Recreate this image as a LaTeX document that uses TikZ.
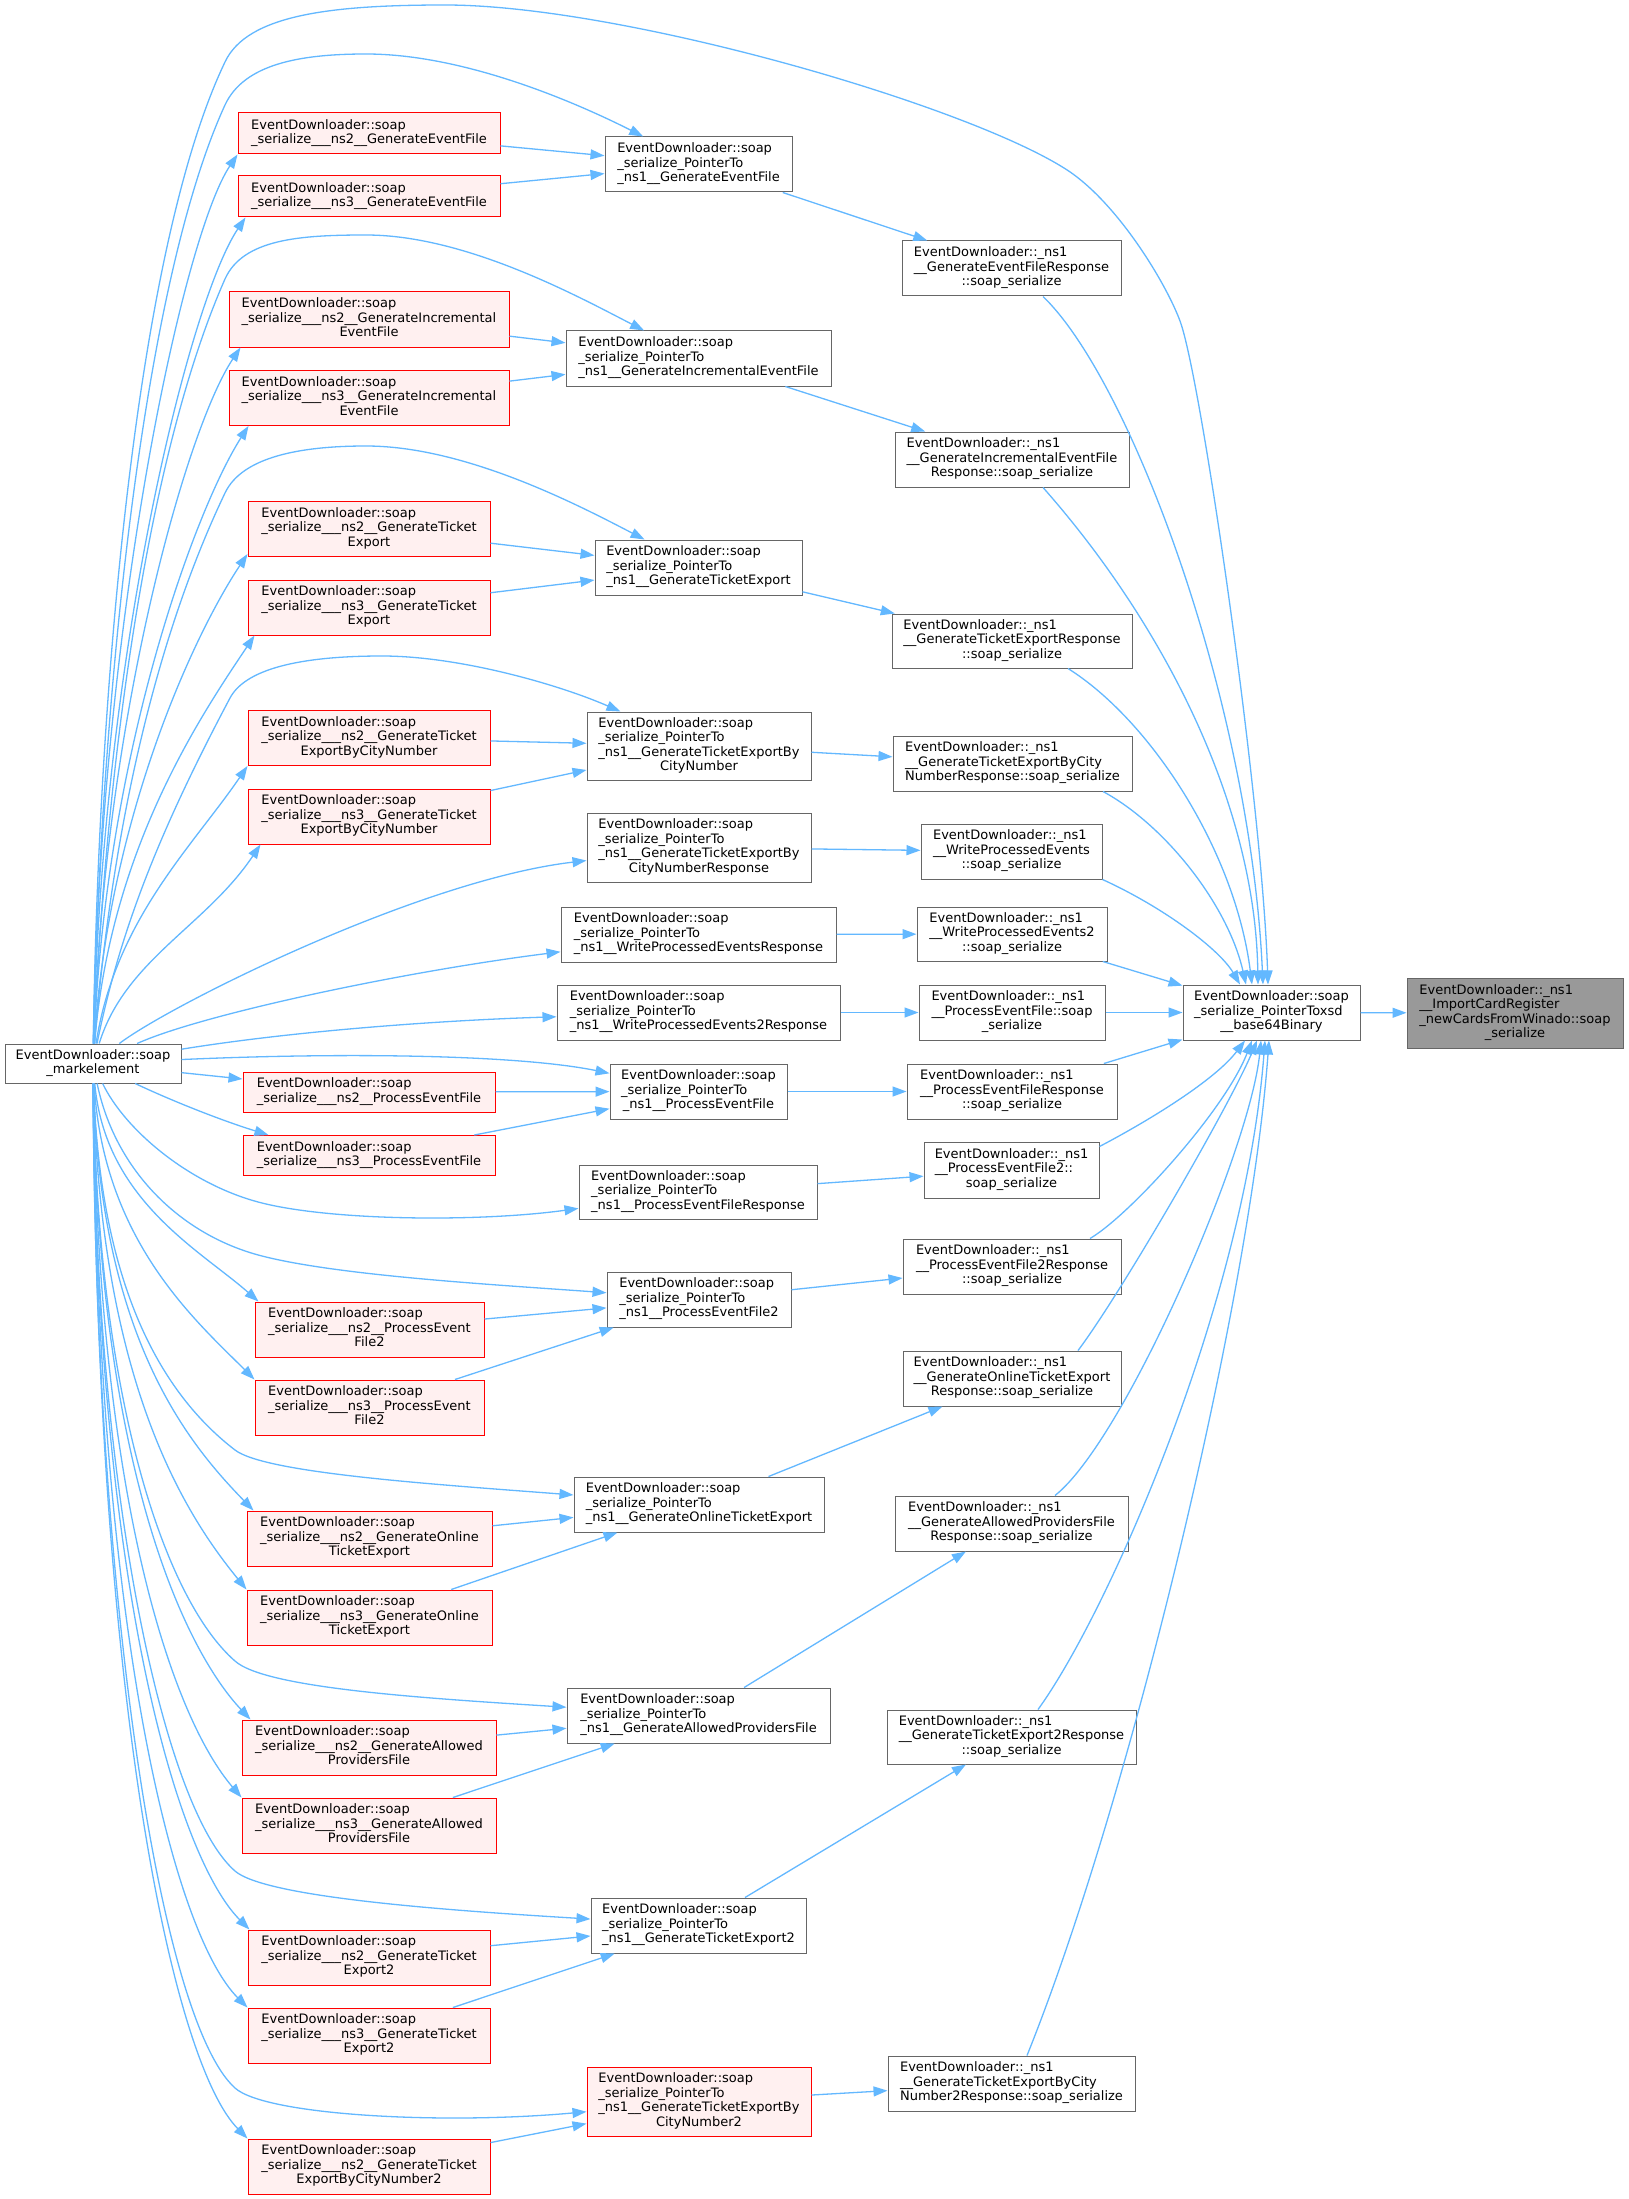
\documentclass[tikz,border=0pt]{standalone}
\usepackage{fontspec}
\setmainfont{DejaVu Sans}
\usetikzlibrary{arrows.meta}
\definecolor{edgeblue}{HTML}{63B8FF}
\definecolor{nodegray}{HTML}{666666}
\definecolor{redfill}{HTML}{FFF0F0}
\definecolor{grayfill}{HTML}{999999}
\newcommand\nlab[2]{\begin{tabular}{@{}l@{}}#1\\\multicolumn{1}{@{}c@{}}{#2}\end{tabular}}
\begin{document}
\begin{tikzpicture}[x=1pt,y=-1pt,
  box/.style={rectangle,draw=nodegray,line width=1pt,fill=white,inner sep=0pt,text=black,font=\fontsize{13}{14.5}\selectfont},
  redbox/.style={box,draw=red,fill=redfill},
  graybox/.style={box,draw=nodegray,fill=grayfill},
  edge/.style={draw=edgeblue,line width=1.3pt,-{Triangle[length=14pt,width=10pt]}}]
\fill[white] (0,0) rectangle (1628,2199);
\useasboundingbox (0,0) rectangle (1628,2199);
% ---------- column 1
\node[box,minimum width=176pt,minimum height=39pt] (M) at (93,1063.5) {\nlab{EventDownloader::soap}{\_markelement}};
% ---------- column 2
\node[redbox,minimum width=262pt,minimum height=41pt] (A2) at (369,133.5) {\nlab{EventDownloader::soap}{\_serialize\_\_\_ns2\_\_GenerateEventFile}};
\node[redbox,minimum width=262pt,minimum height=41pt] (A3) at (369,196.5) {\nlab{EventDownloader::soap}{\_serialize\_\_\_ns3\_\_GenerateEventFile}};
\node[redbox,minimum width=280pt,minimum height=55pt] (B2) at (369,319.5) {\nlab{EventDownloader::soap\\\_serialize\_\_\_ns2\_\_GenerateIncremental}{EventFile}};
\node[redbox,minimum width=280pt,minimum height=55pt] (B3) at (369,398) {\nlab{EventDownloader::soap\\\_serialize\_\_\_ns3\_\_GenerateIncremental}{EventFile}};
\node[redbox,minimum width=242pt,minimum height=55pt] (C2) at (369,529) {\nlab{EventDownloader::soap\\\_serialize\_\_\_ns2\_\_GenerateTicket}{Export}};
\node[redbox,minimum width=242pt,minimum height=55pt] (C3) at (369,607.5) {\nlab{EventDownloader::soap\\\_serialize\_\_\_ns3\_\_GenerateTicket}{Export}};
\node[redbox,minimum width=242pt,minimum height=55pt] (D2) at (369,738) {\nlab{EventDownloader::soap\\\_serialize\_\_\_ns2\_\_GenerateTicket}{ExportByCityNumber}};
\node[redbox,minimum width=242pt,minimum height=55pt] (D3) at (369,816.5) {\nlab{EventDownloader::soap\\\_serialize\_\_\_ns3\_\_GenerateTicket}{ExportByCityNumber}};
\node[redbox,minimum width=252pt,minimum height=40pt] (E2) at (369,1092) {\nlab{EventDownloader::soap}{\_serialize\_\_\_ns2\_\_ProcessEventFile}};
\node[redbox,minimum width=252pt,minimum height=40pt] (E3) at (369,1155.5) {\nlab{EventDownloader::soap}{\_serialize\_\_\_ns3\_\_ProcessEventFile}};
\node[redbox,minimum width=229pt,minimum height=55pt] (F2) at (369.5,1329.5) {\nlab{EventDownloader::soap\\\_serialize\_\_\_ns2\_\_ProcessEvent}{File2}};
\node[redbox,minimum width=229pt,minimum height=55pt] (F3) at (369.5,1407.5) {\nlab{EventDownloader::soap\\\_serialize\_\_\_ns3\_\_ProcessEvent}{File2}};
\node[redbox,minimum width=245pt,minimum height=55pt] (G2) at (369.5,1538.5) {\nlab{EventDownloader::soap\\\_serialize\_\_\_ns2\_\_GenerateOnline}{TicketExport}};
\node[redbox,minimum width=245pt,minimum height=55pt] (G3) at (369.5,1617.5) {\nlab{EventDownloader::soap\\\_serialize\_\_\_ns3\_\_GenerateOnline}{TicketExport}};
\node[redbox,minimum width=254pt,minimum height=55pt] (H2) at (369,1747.5) {\nlab{EventDownloader::soap\\\_serialize\_\_\_ns2\_\_GenerateAllowed}{ProvidersFile}};
\node[redbox,minimum width=254pt,minimum height=55pt] (H3) at (369,1825.5) {\nlab{EventDownloader::soap\\\_serialize\_\_\_ns3\_\_GenerateAllowed}{ProvidersFile}};
\node[redbox,minimum width=242pt,minimum height=55pt] (I2) at (369,1957.5) {\nlab{EventDownloader::soap\\\_serialize\_\_\_ns2\_\_GenerateTicket}{Export2}};
\node[redbox,minimum width=242pt,minimum height=55pt] (I3) at (369,2035.5) {\nlab{EventDownloader::soap\\\_serialize\_\_\_ns3\_\_GenerateTicket}{Export2}};
\node[redbox,minimum width=242pt,minimum height=55pt] (J2) at (369,2166.5) {\nlab{EventDownloader::soap\\\_serialize\_\_\_ns2\_\_GenerateTicket}{ExportByCityNumber2}};
% ---------- column 3
\node[box,minimum width=187pt,minimum height=55pt] (PA) at (698.5,164.5) {\nlab{EventDownloader::soap\\\_serialize\_PointerTo}{\_ns1\_\_GenerateEventFile}};
\node[box,minimum width=265pt,minimum height=55pt] (PB) at (698.5,358.5) {\nlab{EventDownloader::soap\\\_serialize\_PointerTo}{\_ns1\_\_GenerateIncrementalEventFile}};
\node[box,minimum width=207pt,minimum height=55pt] (PC) at (698.5,567.5) {\nlab{EventDownloader::soap\\\_serialize\_PointerTo}{\_ns1\_\_GenerateTicketExport}};
\node[box,minimum width=224pt,minimum height=68pt] (PD) at (699,746) {\nlab{EventDownloader::soap\\\_serialize\_PointerTo\\\_ns1\_\_GenerateTicketExportBy}{CityNumber}};
\node[box,minimum width=224pt,minimum height=69pt] (PDR) at (699,847.5) {\nlab{EventDownloader::soap\\\_serialize\_PointerTo\\\_ns1\_\_GenerateTicketExportBy}{CityNumberResponse}};
\node[box,minimum width=275pt,minimum height=55pt] (PW) at (698.5,934.5) {\nlab{EventDownloader::soap\\\_serialize\_PointerTo}{\_ns1\_\_WriteProcessedEventsResponse}};
\node[box,minimum width=283pt,minimum height=55pt] (PW2) at (698.5,1012.5) {\nlab{EventDownloader::soap\\\_serialize\_PointerTo}{\_ns1\_\_WriteProcessedEvents2Response}};
\node[box,minimum width=177pt,minimum height=55pt] (PE) at (698.5,1091.5) {\nlab{EventDownloader::soap\\\_serialize\_PointerTo}{\_ns1\_\_ProcessEventFile}};
\node[box,minimum width=238pt,minimum height=54pt] (PER) at (698,1192) {\nlab{EventDownloader::soap\\\_serialize\_PointerTo}{\_ns1\_\_ProcessEventFileResponse}};
\node[box,minimum width=184pt,minimum height=55pt] (PF) at (699,1299.5) {\nlab{EventDownloader::soap\\\_serialize\_PointerTo}{\_ns1\_\_ProcessEventFile2}};
\node[box,minimum width=250pt,minimum height=55pt] (PG) at (699,1504.5) {\nlab{EventDownloader::soap\\\_serialize\_PointerTo}{\_ns1\_\_GenerateOnlineTicketExport}};
\node[box,minimum width=263pt,minimum height=55pt] (PH) at (698.5,1715.5) {\nlab{EventDownloader::soap\\\_serialize\_PointerTo}{\_ns1\_\_GenerateAllowedProvidersFile}};
\node[box,minimum width=215pt,minimum height=55pt] (PI) at (698.5,1925.5) {\nlab{EventDownloader::soap\\\_serialize\_PointerTo}{\_ns1\_\_GenerateTicketExport2}};
\node[redbox,minimum width=224pt,minimum height=69pt] (PJ) at (699,2101.5) {\nlab{EventDownloader::soap\\\_serialize\_PointerTo\\\_ns1\_\_GenerateTicketExportBy}{CityNumber2}};
% ---------- column 4
\node[box,minimum width=219pt,minimum height=55pt] (RA) at (1011.5,268.5) {\nlab{EventDownloader::\_ns1\\\_\_GenerateEventFileResponse}{::soap\_serialize}};
\node[box,minimum width=234pt,minimum height=55pt] (RB) at (1012,459.5) {\nlab{EventDownloader::\_ns1\\\_\_GenerateIncrementalEventFile}{Response::soap\_serialize}};
\node[box,minimum width=240pt,minimum height=54pt] (RC) at (1012,641) {\nlab{EventDownloader::\_ns1\\\_\_GenerateTicketExportResponse}{::soap\_serialize}};
\node[box,minimum width=239pt,minimum height=55pt] (RD) at (1012.5,763.5) {\nlab{EventDownloader::\_ns1\\\_\_GenerateTicketExportByCity}{NumberResponse::soap\_serialize}};
\node[box,minimum width=181pt,minimum height=55pt] (RW) at (1011.5,851.5) {\nlab{EventDownloader::\_ns1\\\_\_WriteProcessedEvents}{::soap\_serialize}};
\node[box,minimum width=190pt,minimum height=54pt] (RW2) at (1012,934) {\nlab{EventDownloader::\_ns1\\\_\_WriteProcessedEvents2}{::soap\_serialize}};
\node[box,minimum width=186pt,minimum height=55pt] (RE) at (1012,1012.5) {\nlab{EventDownloader::\_ns1\\\_\_ProcessEventFile::soap}{\_serialize}};
\node[box,minimum width=210pt,minimum height=55pt] (RER) at (1012,1091.5) {\nlab{EventDownloader::\_ns1\\\_\_ProcessEventFileResponse}{::soap\_serialize}};
\node[box,minimum width=175pt,minimum height=56pt] (RF) at (1011.5,1170) {\nlab{EventDownloader::\_ns1\\\_\_ProcessEventFile2::}{soap\_serialize}};
\node[box,minimum width=218pt,minimum height=55pt] (RFR) at (1012,1266.5) {\nlab{EventDownloader::\_ns1\\\_\_ProcessEventFile2Response}{::soap\_serialize}};
\node[box,minimum width=218pt,minimum height=55pt] (RG) at (1012,1378.5) {\nlab{EventDownloader::\_ns1\\\_\_GenerateOnlineTicketExport}{Response::soap\_serialize}};
\node[box,minimum width=233pt,minimum height=55pt] (RH) at (1011.5,1523.5) {\nlab{EventDownloader::\_ns1\\\_\_GenerateAllowedProvidersFile}{Response::soap\_serialize}};
\node[box,minimum width=249pt,minimum height=54pt] (RI) at (1011.5,1737) {\nlab{EventDownloader::\_ns1\\\_\_GenerateTicketExport2Response}{::soap\_serialize}};
\node[box,minimum width=247pt,minimum height=55pt] (RJ) at (1011.5,2083.5) {\nlab{EventDownloader::\_ns1\\\_\_GenerateTicketExportByCity}{Number2Response::soap\_serialize}};
% ---------- columns 5,6
\node[box,minimum width=177pt,minimum height=55pt] (X) at (1271.5,1012.5) {\nlab{EventDownloader::soap\\\_serialize\_PointerToxsd}{\_\_base64Binary}};
\node[graybox,minimum width=216pt,minimum height=70pt] (T) at (1515,1013) {\nlab{EventDownloader::\_ns1\\\_\_ImportCardRegister\\\_newCardsFromWinado::soap}{\_serialize}};
% ---------- edges from markelement (upper)
\draw[edge] (M) .. controls (98,700) and (135,250) .. (225,62) .. controls (247,15) and (330,5) .. (445,5) .. controls (620,5) and (960,103) .. (1064,168) .. controls (1116,200) and (1166,283) .. (1180,321) .. controls (1201,377) and (1262,800) .. ([xshift=-3.5pt]X.north);
\draw[edge] (M) .. controls (100,720) and (140,290) .. (225,105) .. controls (244,64) and (300,54) .. (366,54) .. controls (466,54) and (579,104) .. (PA);
\draw[edge] (M) .. controls (100,620) and (183,236) .. (A2.south west);
\draw[edge] (M) .. controls (102,650) and (190,300) .. ([xshift=8pt]A3.south west);
\draw[edge] (M) .. controls (105,780) and (145,460) .. (225,279) .. controls (243,239) and (300,235) .. (366,235) .. controls (466,235) and (579,297) .. (PB);
\draw[edge] (M) .. controls (104,720) and (186,429) .. ([xshift=12pt]B2.south west);
\draw[edge] (M) .. controls (106,750) and (196,508) .. ([xshift=20pt]B3.south west);
\draw[edge] (M) .. controls (110,850) and (150,650) .. (225,493) .. controls (242,457) and (300,446) .. (366,446) .. controls (466,446) and (580,506) .. (PC);
\draw[edge] (M) .. controls (108,820) and (193,636) .. ([yshift=3pt]C2.south west);
\draw[edge] (M) .. controls (110,850) and (200,717) .. ([xshift=7pt]C3.south west);
\draw[edge] (M) .. controls (120,930) and (160,830) .. (230,698) .. controls (247,666) and (310,656) .. (382,656) .. controls (460,656) and (560,685) .. (PD);
\draw[edge] (M) .. controls (115,920) and (193,846) .. (D2.south west);
\draw[edge] (M) .. controls (125,960) and (206,926) .. ([xshift=13pt]D3.south west);
\draw[edge] (M) .. controls (170,1005) and (420,880) .. (PDR);
\draw[edge] (M) .. controls (200,1015) and (400,972) .. (PW);
\draw[edge] (M) .. controls (300,1030) and (450,1020) .. (PW2);
\draw[edge] (M) .. controls (350,1052) and (520,1055) .. (PE);
\draw[edge] (M) -- (E2);
\draw[edge] (M) .. controls (170,1100) and (220,1120) .. ([xshift=26pt]E3.north west);
% ---------- edges from markelement (lower)
\draw[edge] (M) .. controls (125,1130) and (190,1185) .. (262,1203) .. controls (334,1221) and (480,1222) .. (PER);
\draw[edge] (M) .. controls (115,1170) and (180,1235) .. (262,1256) .. controls (340,1276) and (500,1285) .. (PF);
\draw[edge] (M) .. controls (105,1200) and (200,1250) .. ([xshift=4pt]F2.north west);
\draw[edge] (M) .. controls (103,1240) and (195,1320) .. (F3.north west);
\draw[edge] (M) .. controls (100,1300) and (170,1400) .. (235,1450) .. controls (265,1473) and (430,1484) .. (PG);
\draw[edge] (M) .. controls (100,1340) and (190,1445) .. ([xshift=7pt]G2.north west);
\draw[edge] (M) .. controls (100,1390) and (190,1520) .. (G3.north west);
\draw[edge] (M) .. controls (97,1400) and (165,1600) .. (235,1661) .. controls (265,1688) and (420,1698) .. (PH);
\draw[edge] (M) .. controls (98,1470) and (185,1650) .. ([xshift=9pt]H2.north west);
\draw[edge] (M) .. controls (98,1510) and (175,1720) .. (H3.north west);
\draw[edge] (M) .. controls (95,1500) and (165,1810) .. (235,1871) .. controls (265,1897) and (440,1910) .. (PI);
\draw[edge] (M) .. controls (97,1600) and (180,1860) .. ([xshift=2pt]I2.north west);
\draw[edge] (M) .. controls (97,1640) and (175,1935) .. (I3.north west);
\draw[edge] (M) .. controls (95,1600) and (160,2020) .. (235,2088) .. controls (265,2115) and (440,2125) .. (PJ);
\draw[edge] (M) .. controls (97,1720) and (175,2065) .. (J2.north west);
% ---------- column 2 -> column 3
\draw[edge] (A2) -- (PA);
\draw[edge] (A3) -- (PA);
\draw[edge] (B2) -- (PB);
\draw[edge] (B3) -- (PB);
\draw[edge] (C2) -- (PC);
\draw[edge] (C3) -- (PC);
\draw[edge] (D2) -- (PD);
\draw[edge] (D3) -- (PD);
\draw[edge] (E2) -- (PE);
\draw[edge] (E3) -- (PE);
\draw[edge] (F2) -- (PF);
\draw[edge] (F3) -- (PF);
\draw[edge] (G2) -- (PG);
\draw[edge] (G3) -- (PG);
\draw[edge] (H2) -- (PH);
\draw[edge] (H3) -- (PH);
\draw[edge] (I2) -- (PI);
\draw[edge] (I3) -- (PI);
\draw[edge] (J2) -- (PJ);
% ---------- column 3 -> column 4
\draw[edge] (PA) -- (RA);
\draw[edge] (PB) -- (RB);
\draw[edge] (PC) -- (RC);
\draw[edge] (PD) -- (RD);
\draw[edge] (PDR) -- (RW);
\draw[edge] (PW) -- (RW2);
\draw[edge] (PW2) -- (RE);
\draw[edge] (PE) -- (RER);
\draw[edge] (PER) -- (RF);
\draw[edge] (PF) -- (RFR);
\draw[edge] (PG) -- (RG);
\draw[edge] (PH) -- (RH);
\draw[edge] (PI) -- (RI);
\draw[edge] (PJ) -- (RJ);
% ---------- column 4 -> xsd
\draw[edge] ([xshift=31.5pt]RA.south) .. controls (1130,380) and (1250,700) .. ([xshift=-8.5pt]X.north);
\draw[edge] ([xshift=31pt]RB.south) .. controls (1160,620) and (1255,800) .. ([xshift=-13.5pt]X.north);
\draw[edge] ([xshift=56pt]RC.south) .. controls (1150,720) and (1235,850) .. ([xshift=-19.5pt]X.north);
\draw[edge] ([xshift=90.5pt]RD.south) .. controls (1165,825) and (1228,905) .. ([xshift=-25.5pt]X.north);
\draw[edge] (RW.south east) .. controls (1165,908) and (1220,950) .. ([xshift=-31.5pt]X.north);
\draw[edge] (RW2) -- (X);
\draw[edge] (RE) -- (X);
\draw[edge] (RER) -- (X);
\draw[edge] ([yshift=-5pt]RF.north east) .. controls (1150,1120) and (1215,1080) .. ([xshift=-26.5pt]X.south);
\draw[edge] ([xshift=78pt]RFR.north) .. controls (1130,1215) and (1225,1110) .. ([xshift=-19.5pt]X.south);
\draw[edge] ([xshift=66pt]RG.north) .. controls (1120,1295) and (1230,1105) .. ([xshift=-14.5pt]X.south);
\draw[edge] ([xshift=43.5pt]RH.north) .. controls (1125,1440) and (1250,1150) .. ([xshift=-10.5pt]X.south);
\draw[edge] ([xshift=26.5pt]RI.north) .. controls (1110,1610) and (1245,1300) .. ([xshift=-6.5pt]X.south);
\draw[edge] ([xshift=15.5pt]RJ.north) .. controls (1130,1800) and (1250,1300) .. ([xshift=-2.5pt]X.south);
% ---------- xsd -> target
\draw[edge] (X) -- (T);
\end{tikzpicture}
\end{document}
